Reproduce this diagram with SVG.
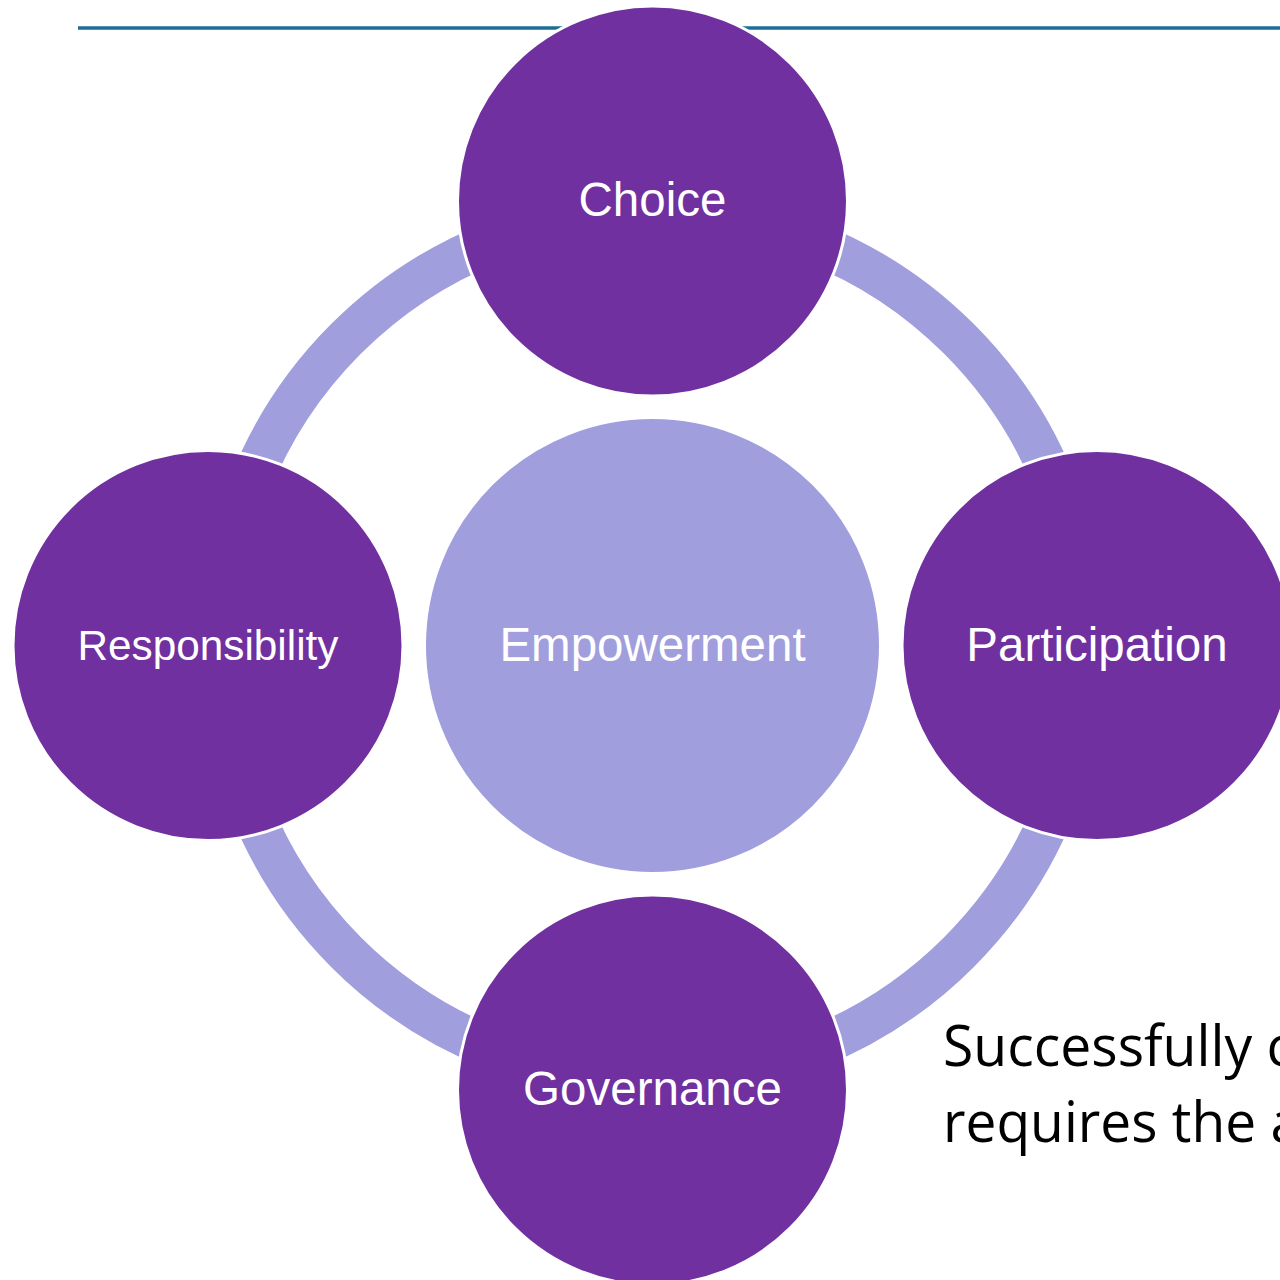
<svg xmlns="http://www.w3.org/2000/svg" width="1280" height="1280" viewBox="0 0 1280 1280">
  <style>
    .node { fill: #7030A0; stroke: #FFFFFF; stroke-width: 3; }
    .hub { fill: #A09EDD; stroke: #FFFFFF; stroke-width: 3; }
    .label { fill: #FFFFFF; font-family: "Liberation Sans", Arial, sans-serif; font-size: 47.5px; text-anchor: middle; }
    .body { fill: #000000; font-family: "Open Sans", "Noto Sans", sans-serif; font-size: 56px; }
  </style>
  <rect width="1280" height="1280" fill="#FFFFFF"/>

  <!-- header rule -->
  <line x1="78" y1="28" x2="1280" y2="28" stroke="#1A6E98" stroke-width="3.5"/>

  <!-- ring linking the four outer nodes -->
  <g id="connectors">
    <circle cx="652.5" cy="645.5" r="433.5" fill="none" stroke="#A09EDD" stroke-width="42"/>
  </g>

  <g id="empowerment">
    <circle class="hub" cx="652.5" cy="645.5" r="228"/>
    <text class="label" x="652.5" y="661">Empowerment</text>
  </g>

  <g id="choice">
    <circle class="node" cx="652.5" cy="201" r="195"/>
    <text class="label" x="652.5" y="216">Choice</text>
  </g>

  <g id="responsibility">
    <circle class="node" cx="208" cy="645.5" r="195"/>
    <text class="label" x="208" y="660" style="font-size:42.3px">Responsibility</text>
  </g>

  <g id="participation">
    <circle class="node" cx="1097" cy="645.5" r="195"/>
    <text class="label" x="1097" y="661">Participation</text>
  </g>

  <g id="governance">
    <circle class="node" cx="652.5" cy="1090" r="195"/>
    <text class="label" x="652.5" y="1105">Governance</text>
  </g>

  <!-- body copy at lower right, running past the right edge -->
  <text class="body" x="943" y="1066" textLength="350" lengthAdjust="spacingAndGlyphs">Successfully c</text>
  <text class="body" x="943" y="1142" textLength="358" lengthAdjust="spacingAndGlyphs">requires the a</text>
</svg>
